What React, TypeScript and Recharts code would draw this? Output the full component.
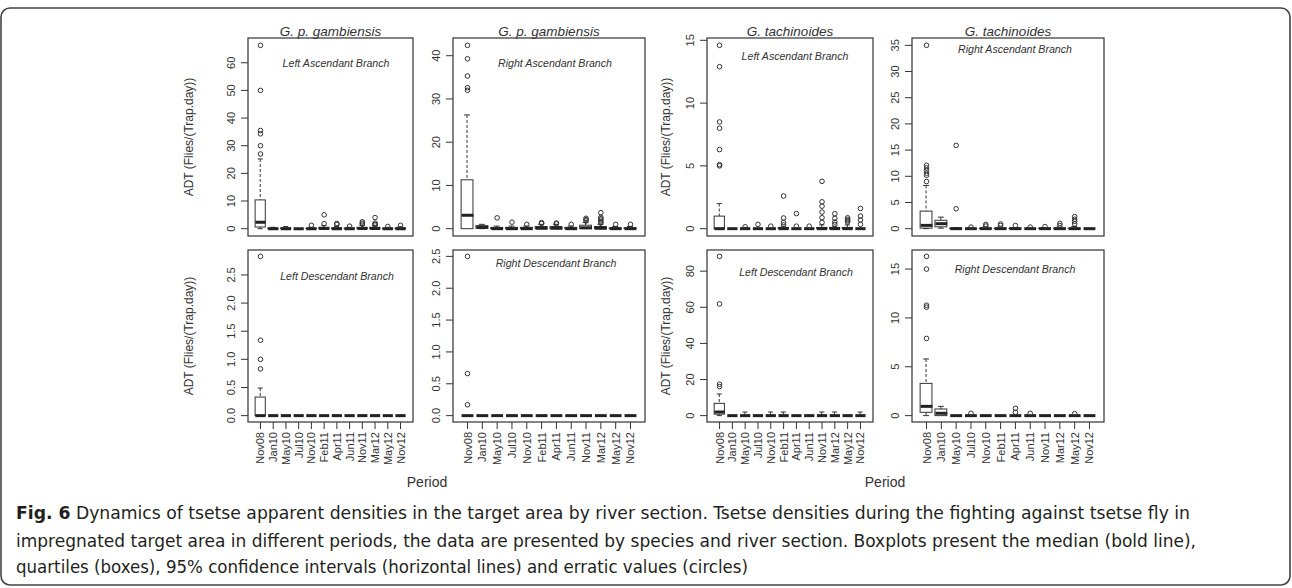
import React from "react";
import { Bar, ComposedChart, Scatter, XAxis, YAxis } from "recharts";

const FONT = '"Liberation Sans", Arial, sans-serif';
const INK = "#333";

const periods = ["Nov08", "Jan10", "May10", "Jul10", "Nov10", "Feb11", "Apr11", "Jun11", "Nov11", "Mar12", "May12", "Nov12"];

// each box: [lower whisker, q1, median, q3, upper whisker]
const gpgLeftAscBox = [
  [0, 0.6, 2.3, 10.4, 25.2],
  [0, 0, 0, 0.2, 0.5],
  [0, 0, 0, 0.3, 0.8],
  [0, 0, 0, 0, 0],
  [0, 0, 0, 0.2, 0.5],
  [0, 0, 0.1, 0.5, 1.1],
  [0, 0, 0, 0.3, 0.8],
  [0, 0, 0, 0.2, 0.5],
  [0, 0, 0.1, 0.5, 1.2],
  [0, 0, 0.1, 0.5, 1.0],
  [0, 0, 0, 0.2, 0.5],
  [0, 0, 0, 0.3, 0.7],
];
const gpgLeftAscOut = [
  [27, 30, 34.3, 35.5, 50, 66.3],
  [], [], [], [1.2], [1.8, 5.0], [1.5, 1.9], [0.9], [1.6, 2.0, 2.5], [1.3, 1.6, 2.0, 4.0], [0.8], [1.2],
];

const gpgRightAscBox = [
  [0, 0, 3.1, 11.3, 26.3],
  [0, 0.1, 0.3, 0.7, 1.0],
  [0, 0, 0, 0.3, 0.6],
  [0, 0, 0, 0.3, 0.6],
  [0, 0, 0, 0.3, 0.6],
  [0, 0, 0.1, 0.5, 1.0],
  [0, 0, 0.1, 0.5, 1.0],
  [0, 0, 0, 0.3, 0.6],
  [0, 0, 0.2, 0.8, 1.4],
  [0, 0, 0.1, 0.5, 1.0],
  [0, 0, 0, 0.2, 0.5],
  [0, 0, 0, 0.2, 0.5],
];
const gpgRightAscOut = [
  [32.0, 32.6, 35.3, 39.3, 42.4],
  [], [2.5], [1.5], [1.0], [1.2, 1.4], [1.1, 1.3], [1.0], [1.8, 2.1, 2.4], [1.3, 1.6, 2.0, 2.3, 2.6, 3.7], [1.0], [1.0],
];

const gtLeftAscBox = [
  [0, 0, 0, 1.0, 2.0],
  [0, 0, 0, 0, 0],
  [0, 0, 0, 0, 0.1],
  [0, 0, 0, 0, 0],
  [0, 0, 0, 0, 0],
  [0, 0, 0, 0.1, 0.2],
  [0, 0, 0, 0, 0],
  [0, 0, 0, 0, 0],
  [0, 0, 0, 0.1, 0.3],
  [0, 0, 0, 0.1, 0.2],
  [0, 0, 0, 0.1, 0.3],
  [0, 0, 0, 0, 0],
];
const gtLeftAscOut = [
  [5.0, 5.1, 6.3, 8.0, 8.5, 12.9, 14.6],
  [], [0.15], [0.34], [0.2], [0.3, 0.5, 0.85, 2.6], [0.2, 1.2], [0.2],
  [0.5, 0.87, 1.32, 1.79, 2.14, 3.77], [0.34, 0.53, 0.82, 1.19], [0.53, 0.63, 0.74, 0.87], [0.34, 0.69, 1.0, 1.61],
];

const gtRightAscBox = [
  [0, 0.1, 0.63, 3.35, 8.25],
  [0.1, 0.35, 0.95, 1.6, 2.2],
  [0, 0, 0, 0.1, 0.2],
  [0, 0, 0, 0, 0.1],
  [0, 0, 0, 0.1, 0.3],
  [0, 0, 0, 0.1, 0.3],
  [0, 0, 0, 0.1, 0.2],
  [0, 0, 0, 0, 0.1],
  [0, 0, 0, 0.1, 0.2],
  [0, 0, 0, 0.1, 0.3],
  [0, 0, 0, 0.1, 0.4],
  [0, 0, 0, 0, 0],
];
const gtRightAscOut = [
  [9.0, 10.2, 10.6, 11.1, 11.6, 12.1, 35.0],
  [], [3.8, 15.9], [0.3], [0.5, 0.8], [0.6, 0.9], [0.6], [0.3], [0.4], [0.6, 1.0], [0.9, 1.4, 1.8, 2.3], [],
];

const gpgLeftDescBox = [
  [0, 0, 0, 0.33, 0.49],
  [0, 0, 0, 0, 0], [0, 0, 0, 0, 0], [0, 0, 0, 0, 0], [0, 0, 0, 0, 0], [0, 0, 0, 0, 0],
  [0, 0, 0, 0, 0], [0, 0, 0, 0, 0], [0, 0, 0, 0, 0], [0, 0, 0, 0, 0], [0, 0, 0, 0, 0], [0, 0, 0, 0, 0],
];
const gpgLeftDescOut = [[0.83, 1.0, 1.34, 2.83], [], [], [], [], [], [], [], [], [], [], []];

const gpgRightDescBox = [
  [0, 0, 0, 0, 0], [0, 0, 0, 0, 0], [0, 0, 0, 0, 0], [0, 0, 0, 0, 0], [0, 0, 0, 0, 0], [0, 0, 0, 0, 0],
  [0, 0, 0, 0, 0], [0, 0, 0, 0, 0], [0, 0, 0, 0, 0], [0, 0, 0, 0, 0], [0, 0, 0, 0, 0], [0, 0, 0, 0, 0],
];
const gpgRightDescOut = [[0.17, 0.66, 2.5], [], [], [], [], [], [], [], [], [], [], []];

const gtLeftDescBox = [
  [0, 0.8, 2.0, 6.8, 12.0],
  [0, 0, 0, 0, 0],
  [0, 0, 0, 0, 2.0],
  [0, 0, 0, 0, 0],
  [0, 0, 0, 0, 2.0],
  [0, 0, 0, 0, 2.0],
  [0, 0, 0, 0, 0],
  [0, 0, 0, 0, 0],
  [0, 0, 0, 0, 2.0],
  [0, 0, 0, 0, 2.0],
  [0, 0, 0, 0, 0],
  [0, 0, 0, 0, 2.0],
];
const gtLeftDescOut = [[16.1, 17.4, 61.9, 88.2], [], [], [], [], [], [], [], [], [], [], []];

const gtRightDescBox = [
  [0, 0.34, 0.95, 3.3, 5.8],
  [0, 0, 0.24, 0.68, 0.95],
  [0, 0, 0, 0, 0], [0, 0, 0, 0, 0], [0, 0, 0, 0, 0], [0, 0, 0, 0, 0],
  [0, 0, 0, 0, 0], [0, 0, 0, 0, 0], [0, 0, 0, 0, 0], [0, 0, 0, 0, 0], [0, 0, 0, 0, 0], [0, 0, 0, 0, 0],
];
const gtRightDescOut = [[7.9, 11.1, 11.3, 15.0, 16.3], [], [], [0.24], [], [], [0.34, 0.75], [0.24], [], [], [0.2], []];

const ticks60 = [0, 10, 20, 30, 40, 50, 60];
const ticks40 = [0, 10, 20, 30, 40];
const ticks15 = [0, 5, 10, 15];
const ticks35 = [0, 5, 10, 15, 20, 25, 30, 35];
const ticks25 = [0, 0.5, 1, 1.5, 2, 2.5];
const ticks80 = [0, 20, 40, 60, 80];

const Blank = () => <g />;

function LowWhisker(p: any) {
  const { x, y, width, height } = p;
  if (!height || height < 0.3) return <g />;
  const cx = x + width / 2;
  const cap = width / 4;
  return (
    <g stroke={INK} strokeWidth={1}>
      <line x1={cx} x2={cx} y1={y} y2={y + height} strokeDasharray="3 2" />
      <line x1={cx - cap} x2={cx + cap} y1={y + height} y2={y + height} />
    </g>
  );
}

function HighWhisker(p: any) {
  const { x, y, width, height } = p;
  if (!height || height < 0.3) return <g />;
  const cx = x + width / 2;
  const cap = width / 4;
  return (
    <g stroke={INK} strokeWidth={1}>
      <line x1={cx} x2={cx} y1={y} y2={y + height} strokeDasharray="3 2" />
      <line x1={cx - cap} x2={cx + cap} y1={y} y2={y} />
    </g>
  );
}

function BoxRect(p: any) {
  const { x, y, width, height } = p;
  if (!height || height < 0.3) return <g />;
  return <rect x={x} y={y} width={width} height={height} fill="none" stroke={INK} strokeWidth={1} />;
}

function YTick(props: any) {
  const { x, y, payload, decimals } = props;
  return (
    <text x={x} y={y} transform={`rotate(-90 ${x} ${y})`} textAnchor="middle" fontSize={11} fill={INK} fontFamily={FONT}>
      {Number(payload.value).toFixed(decimals)}
    </text>
  );
}

function XTick(props: any) {
  const { x, y, payload } = props;
  const bx = x + 4;
  return (
    <text x={bx} y={y} transform={`rotate(-90 ${bx} ${y})`} textAnchor="end" fontSize={11} fill={INK} fontFamily={FONT}>
      {payload.value}
    </text>
  );
}

type PanelProps = {
  box: number[][];
  out: number[][];
  left: number;
  right: number;
  top: number;
  bottom: number;
  ticks: number[];
  decimals: number;
  labels: boolean;
};

function Panel({ box, out, left, right, top, bottom, ticks, decimals, labels }: PanelProps) {
  const w = right - left;
  const h = bottom - top;
  const unit = w / 12.96;
  const bw = 0.8 * unit;
  const ML = 50;
  const MT = 10;
  const MR = 10;
  const MB = labels ? 60 : 20;
  const values = box.flat().concat(out.flat());
  const lo = Math.min(0, ...values);
  const hi = Math.max(...values);
  const ext = (hi - lo) * 0.04;
  const nOut = Math.max(...out.map((o) => o.length));
  const rows = periods.map((period, i) => {
    const [l, q1, md, q3, u] = box[i];
    const row: any = { period, s0: l, s1: q1 - l, s2: q3 - q1, s3: u - q3, med: md };
    out[i].forEach((v, k) => {
      row["o" + k] = v;
    });
    return row;
  });
  const median = (p: any) =>
    p.cy == null ? <g /> : <line x1={p.cx - bw / 2} x2={p.cx + bw / 2} y1={p.cy} y2={p.cy} stroke="#222" strokeWidth={3} />;
  const dot = (key: string) => (p: any) =>
    p.payload == null || p.payload[key] == null || p.cy == null ? (
      <g />
    ) : (
      <circle cx={p.cx} cy={p.cy} r={2.3} fill="none" stroke={INK} strokeWidth={1} />
    );

  return (
    <div style={{ position: "absolute", left: left - ML, top: top - MT }}>
      <ComposedChart
        width={w + ML + MR}
        height={h + MT + MB}
        data={rows}
        margin={{ top: MT, right: MR, left: 5, bottom: 5 }}
      >
        <XAxis
          dataKey="period"
          type="category"
          interval={0}
          height={MB - 5}
          padding={{ left: 0.48 * unit, right: 0.48 * unit }}
          axisLine={false}
          tickSize={7}
          tickMargin={3}
          tickLine={{ stroke: INK }}
          tick={labels ? <XTick /> : false}
        />
        <YAxis
          type="number"
          width={ML - 5}
          domain={[lo - ext, hi + ext]}
          allowDataOverflow
          ticks={ticks}
          interval={0}
          axisLine={false}
          tickSize={7}
          tickMargin={6}
          tickLine={{ stroke: INK }}
          tick={<YTick decimals={decimals} />}
        />
        <Bar dataKey="s0" stackId="b" barSize={bw} shape={Blank} isAnimationActive={false} />
        <Bar dataKey="s1" stackId="b" barSize={bw} shape={LowWhisker} isAnimationActive={false} />
        <Bar dataKey="s2" stackId="b" barSize={bw} shape={BoxRect} isAnimationActive={false} />
        <Bar dataKey="s3" stackId="b" barSize={bw} shape={HighWhisker} isAnimationActive={false} />
        <Scatter dataKey="med" shape={median} isAnimationActive={false} />
        {Array.from({ length: nOut }, (_, k) => (
          <Scatter key={k} dataKey={"o" + k} shape={dot("o" + k)} isAnimationActive={false} />
        ))}
      </ComposedChart>
    </div>
  );
}

const TOP = { top: 38, bottom: 236 };
const BOT = { top: 250, bottom: 422 };
const COLS = [
  { left: 248, right: 413 },
  { left: 453, right: 645 },
  { left: 707, right: 873 },
  { left: 912, right: 1104 },
];

const panels = [
  { box: gpgLeftAscBox, out: gpgLeftAscOut, ...COLS[0], ...TOP, ticks: ticks60, decimals: 0, labels: false },
  { box: gpgRightAscBox, out: gpgRightAscOut, ...COLS[1], ...TOP, ticks: ticks40, decimals: 0, labels: false },
  { box: gtLeftAscBox, out: gtLeftAscOut, ...COLS[2], ...TOP, ticks: ticks15, decimals: 0, labels: false },
  { box: gtRightAscBox, out: gtRightAscOut, ...COLS[3], ...TOP, ticks: ticks35, decimals: 0, labels: false },
  { box: gpgLeftDescBox, out: gpgLeftDescOut, ...COLS[0], ...BOT, ticks: ticks25, decimals: 1, labels: true },
  { box: gpgRightDescBox, out: gpgRightDescOut, ...COLS[1], ...BOT, ticks: ticks25, decimals: 1, labels: true },
  { box: gtLeftDescBox, out: gtLeftDescOut, ...COLS[2], ...BOT, ticks: ticks80, decimals: 0, labels: true },
  { box: gtRightDescBox, out: gtRightDescOut, ...COLS[3], ...BOT, ticks: ticks15, decimals: 0, labels: true },
];

const branchLabels = [
  { text: "Left Ascendant Branch", x: 336, y: 67 },
  { text: "Right Ascendant Branch", x: 555, y: 67 },
  { text: "Left Ascendant Branch", x: 795, y: 60 },
  { text: "Right Ascendant Branch", x: 1015, y: 53 },
  { text: "Left Descendant Branch", x: 337, y: 280 },
  { text: "Right Descendant Branch", x: 556, y: 267 },
  { text: "Left Descendant Branch", x: 796, y: 276 },
  { text: "Right Descendant Branch", x: 1015, y: 273 },
];

const YLABEL = "ADT (Flies/(Trap.day))";

export default function App() {
  return (
    <div style={{ position: "absolute", left: 0, top: 0, width: 1292, height: 588, background: "#fff" }}>
      {panels.map((p, i) => (
        <Panel key={i} {...p} />
      ))}
      <svg width={1292} height={588} style={{ position: "absolute", left: 0, top: 0, pointerEvents: "none" }}>
        <rect x={1} y={8} width={1289} height={577} rx={9} fill="none" stroke="#444" strokeWidth={1.6} />
        {panels.map((p, i) => (
          <rect key={i} x={p.left} y={p.top} width={p.right - p.left} height={p.bottom - p.top} fill="none" stroke={INK} strokeWidth={1.2} />
        ))}
        <g fontFamily={FONT} fill={INK} fontStyle="italic" fontSize={13.5} textAnchor="middle">
          <text x={(COLS[0].left + COLS[0].right) / 2} y={36}>G. p. gambiensis</text>
          <text x={(COLS[1].left + COLS[1].right) / 2} y={36}>G. p. gambiensis</text>
          <text x={(COLS[2].left + COLS[2].right) / 2} y={36}>G. tachinoides</text>
          <text x={(COLS[3].left + COLS[3].right) / 2} y={36}>G. tachinoides</text>
        </g>
        <g fontFamily={FONT} fill={INK} fontStyle="italic" fontSize={10.6} textAnchor="middle">
          {branchLabels.map((b, i) => (
            <text key={i} x={b.x} y={b.y}>{b.text}</text>
          ))}
        </g>
        <g fontFamily={FONT} fill={INK} fontSize={12} textAnchor="middle">
          {[
            [193, 137],
            [193, 336],
            [670, 137],
            [670, 336],
          ].map(([x, y], i) => (
            <text key={i} x={x} y={y} transform={`rotate(-90 ${x} ${y})`}>{YLABEL}</text>
          ))}
        </g>
        <g fontFamily={FONT} fill={INK} fontSize={14} textAnchor="middle">
          <text x={427} y={487}>Period</text>
          <text x={885} y={487}>Period</text>
        </g>
        <g fontFamily='"Liberation Sans Narrow", "DejaVu Sans Condensed", "Liberation Sans", sans-serif' fontSize={17} fill="#231f20">
          <text x={16} y={519} textLength={1174} lengthAdjust="spacingAndGlyphs">
            <tspan fontWeight="bold">Fig. 6</tspan> Dynamics of tsetse apparent densities in the target area by river section. Tsetse densities during the fighting against tsetse fly in
          </text>
          <text x={16} y={547} textLength={1180} lengthAdjust="spacingAndGlyphs">
            impregnated target area in different periods, the data are presented by species and river section. Boxplots present the median (bold line),
          </text>
          <text x={16} y={573} textLength={732} lengthAdjust="spacingAndGlyphs">
            quartiles (boxes), 95% confidence intervals (horizontal lines) and erratic values (circles)
          </text>
        </g>
      </svg>
    </div>
  );
}
